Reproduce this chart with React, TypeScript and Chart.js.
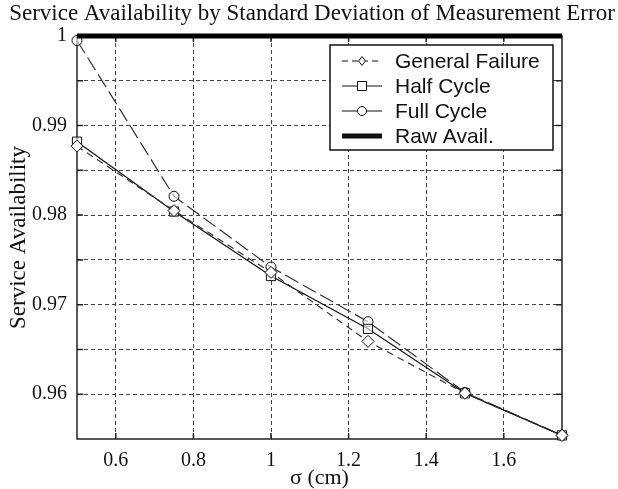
import React, { useEffect, useRef } from "react";
import { Chart, registerables } from "chart.js";

Chart.register(...registerables);

const sigma = [0.5, 0.75, 1.0, 1.25, 1.5, 1.75];
const generalFailure = [0.9877, 0.9805, 0.9736, 0.9659, 0.9601, 0.9554];
const halfCycle = [0.9882, 0.9804, 0.9732, 0.9673, 0.9601, 0.9554];
const fullCycle = [0.9995, 0.9821, 0.9742, 0.9681, 0.9602, 0.9554];
const rawAvail = [1, 1, 1, 1, 1, 1];

const xTicks = [0.6, 0.8, 1.0, 1.2, 1.4, 1.6];
const yTicks = [0.96, 0.965, 0.97, 0.975, 0.98, 0.985, 0.99, 0.995, 1.0];
const yLabelled = [0.96, 0.97, 0.98, 0.99, 1.0];

const titleText = "Service Availability by Standard Deviation of Measurement Error";
const xTitle = "σ (cm)";
const yTitle = "Service Availability";

const legendItems = [
  { label: "General Failure", style: "diamond", dash: [6, 4], width: 1 },
  { label: "Half Cycle", style: "square", dash: [], width: 1 },
  { label: "Full Cycle", style: "circle", dash: [], width: 1 },
  { label: "Raw Avail.", style: "none", dash: [], width: 5 },
];

const SERIF = "'Liberation Serif', 'Times New Roman', serif";
const SANS = "'Liberation Sans', Arial, sans-serif";

function drawMarker(ctx: CanvasRenderingContext2D, style: string, x: number, y: number, r: number) {
  ctx.save();
  ctx.setLineDash([]);
  ctx.fillStyle = "#fff";
  ctx.strokeStyle = "#111";
  ctx.lineWidth = 1;
  ctx.beginPath();
  if (style === "diamond") {
    ctx.moveTo(x, y - r);
    ctx.lineTo(x + r * 0.75, y);
    ctx.lineTo(x, y + r);
    ctx.lineTo(x - r * 0.75, y);
    ctx.closePath();
  } else if (style === "square") {
    ctx.rect(x - r, y - r, 2 * r, 2 * r);
  } else if (style === "circle") {
    ctx.arc(x, y, r, 0, Math.PI * 2);
  }
  ctx.fill();
  ctx.stroke();
  ctx.restore();
}

const decorPlugin = {
  id: "decor",
  beforeDatasetsDraw(chart: any) {
    const { ctx, chartArea } = chart;
    const xs = chart.scales.x;
    const ys = chart.scales.y;
    ctx.save();
    ctx.strokeStyle = "#222";
    ctx.lineWidth = 1.5;
    ctx.setLineDash([]);
    ctx.strokeRect(chartArea.left, chartArea.top, chartArea.right - chartArea.left, chartArea.bottom - chartArea.top);
    for (const v of xTicks) {
      const px = xs.getPixelForValue(v);
      ctx.beginPath();
      ctx.moveTo(px, chartArea.bottom);
      ctx.lineTo(px, chartArea.bottom - 6);
      ctx.moveTo(px, chartArea.top);
      ctx.lineTo(px, chartArea.top + 6);
      ctx.stroke();
    }
    for (const v of yTicks) {
      const py = ys.getPixelForValue(v);
      ctx.beginPath();
      ctx.moveTo(chartArea.left, py);
      ctx.lineTo(chartArea.left + 6, py);
      ctx.moveTo(chartArea.right, py);
      ctx.lineTo(chartArea.right - 6, py);
      ctx.stroke();
    }
    ctx.restore();
  },
  afterDraw(chart: any) {
    const { ctx } = chart;
    ctx.save();
    ctx.fillStyle = "#111";
    ctx.font = `23px ${SERIF}`;
    ctx.textAlign = "center";
    ctx.textBaseline = "middle";
    ctx.fillText(titleText, 312, 14);
    const bx = 330, by = 45, bw = 223, bh = 105;
    ctx.fillStyle = "#fff";
    ctx.fillRect(bx, by, bw, bh);
    ctx.strokeStyle = "#111";
    ctx.lineWidth = 1.5;
    ctx.setLineDash([]);
    ctx.strokeRect(bx, by, bw, bh);
    legendItems.forEach((it, i) => {
      const y = 61 + i * 25;
      ctx.save();
      ctx.strokeStyle = "#111";
      ctx.lineWidth = it.width;
      ctx.setLineDash(it.dash);
      ctx.beginPath();
      ctx.moveTo(342, y);
      ctx.lineTo(382, y);
      ctx.stroke();
      ctx.restore();
      if (it.style !== "none") drawMarker(ctx, it.style, 362, y, 4.5);
      ctx.fillStyle = "#111";
      ctx.font = `21px ${SANS}`;
      ctx.textAlign = "left";
      ctx.textBaseline = "middle";
      ctx.fillText(it.label, 395, y + 1);
    });
    ctx.restore();
  },
};

export default function App() {
  const ref = useRef<HTMLCanvasElement | null>(null);
  useEffect(() => {
    document.body.style.margin = "0";
    const canvas = ref.current;
    if (!canvas) return;
    const mk = (vals: number[]) => sigma.map((x, i) => ({ x, y: vals[i] }));
    const chart = new Chart(canvas, {
      type: "line",
      data: {
        datasets: [
          {
            label: "Raw Avail.",
            data: mk(rawAvail),
            borderColor: "#000",
            borderWidth: 5,
            pointRadius: 0,
            clip: false as any,
          },
          {
            label: "General Failure",
            data: mk(generalFailure),
            borderColor: "#333",
            borderWidth: 1.2,
            borderDash: [7, 5],
            pointStyle: "rectRot",
            pointRadius: 6,
            pointBackgroundColor: "#fff",
            pointBorderColor: "#111",
            pointBorderWidth: 1,
            clip: false as any,
          },
          {
            label: "Half Cycle",
            data: mk(halfCycle),
            borderColor: "#111",
            borderWidth: 1.2,
            pointStyle: "rect",
            pointRadius: 6.5,
            pointBackgroundColor: "rgba(255,255,255,0.6)",
            pointBorderColor: "#111",
            pointBorderWidth: 1,
            clip: false as any,
          },
          {
            label: "Full Cycle",
            data: mk(fullCycle),
            borderColor: "#333",
            borderWidth: 1.2,
            borderDash: [15, 5],
            pointStyle: "circle",
            pointRadius: 5,
            pointBackgroundColor: "rgba(255,255,255,0.6)",
            pointBorderColor: "#111",
            pointBorderWidth: 1,
            clip: false as any,
          },
        ],
      },
      options: {
        responsive: false,
        animation: false,
        events: [],
        layout: { padding: { top: 36, right: 56, left: 0, bottom: 0 } },
        plugins: { legend: { display: false }, title: { display: false }, tooltip: { enabled: false } },
        scales: {
          x: {
            type: "linear",
            min: 0.5,
            max: 1.75,
            afterBuildTicks: (s: any) => {
              s.ticks = xTicks.map((v) => ({ value: v }));
            },
            afterFit: (s: any) => {
              s.height = 50;
            },
            ticks: {
              autoSkip: false,
              maxRotation: 0,
              padding: 10,
              color: "#111",
              font: { family: SERIF, size: 20 },
              callback: (v: any) => String(Number(v)),
            },
            grid: { color: "#444", lineWidth: 1, drawTicks: false },
            border: { display: false, dash: [4, 3] } as any,
            title: {
              display: true,
              text: xTitle,
              color: "#111",
              font: { family: SERIF, size: 22, lineHeight: 1 },
              padding: { top: 0, bottom: 0 },
            },
          },
          y: {
            type: "linear",
            min: 0.955,
            max: 1.0,
            afterBuildTicks: (s: any) => {
              s.ticks = yTicks.map((v) => ({ value: v }));
            },
            afterFit: (s: any) => {
              s.width = 77;
            },
            ticks: {
              autoSkip: false,
              padding: 10,
              color: "#111",
              font: { family: SERIF, size: 20 },
              callback: (v: any) => {
                const n = Number(v);
                return yLabelled.some((t) => Math.abs(t - n) < 1e-6) ? String(Number(n.toFixed(3))) : "";
              },
            },
            grid: { color: "#444", lineWidth: 1, drawTicks: false },
            border: { display: false, dash: [4, 3] } as any,
            title: {
              display: true,
              text: yTitle,
              color: "#111",
              font: { family: SERIF, size: 23, lineHeight: 1 },
              padding: { top: 7, bottom: 0 },
            },
          },
        },
      },
      plugins: [decorPlugin],
    });
    return () => chart.destroy();
  }, []);
  return <canvas ref={ref} width={618} height={489} style={{ display: "block" }} />;
}
